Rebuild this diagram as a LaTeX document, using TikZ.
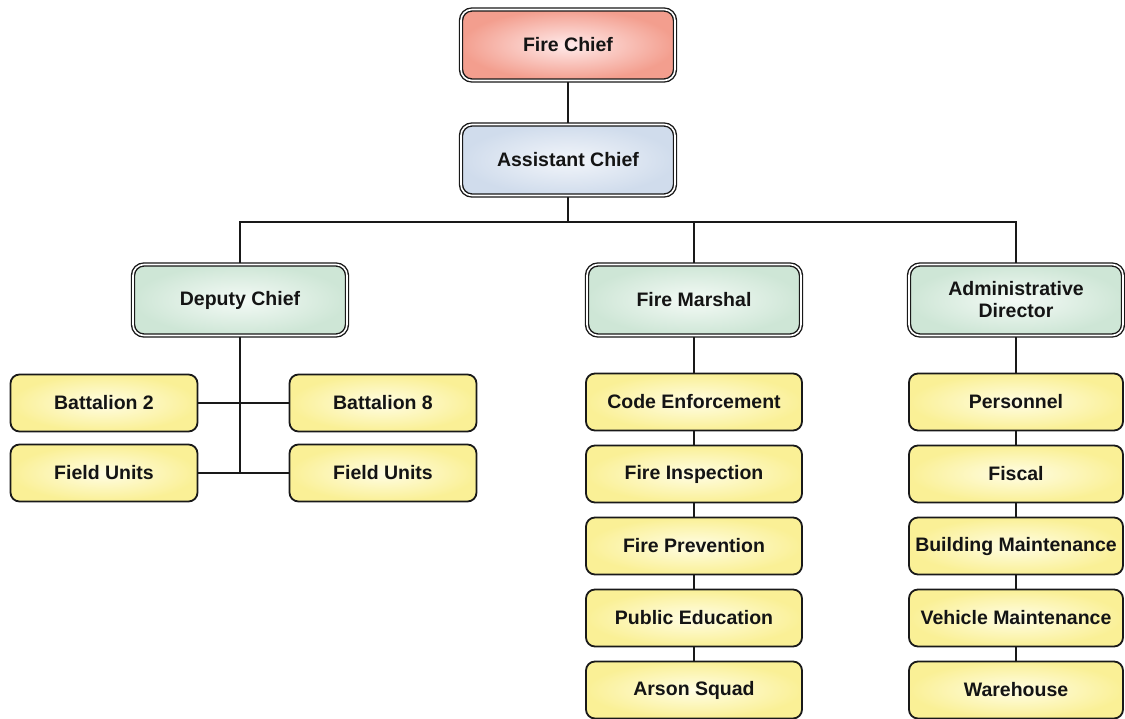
\documentclass[tikz,border=0pt]{standalone}
\usepackage{fontspec}
\setmainfont{Liberation Sans}
\usetikzlibrary{backgrounds}
\begin{document}
\begin{tikzpicture}[x=1pt,y=-1pt,
  base/.style={rounded corners=11pt, align=center, font=\fontsize{19.5}{22}\selectfont\bfseries, text=black!92, inner sep=0pt},
  dbl/.style={base, draw=black!90, line width=1.4pt, double=white, double distance=1.6pt, minimum width=214pt, minimum height=71pt},
  redbox/.style={dbl, inner color=red!8!white, outer color={rgb,255:red,243;green,158;blue,142}},
  bluebox/.style={dbl, inner color={rgb,255:red,242;green,245;blue,250}, outer color={rgb,255:red,208;green,220;blue,236}},
  greenbox/.style={dbl, inner color={rgb,255:red,244;green,250;blue,246}, outer color={rgb,255:red,206;green,230;blue,214}},
  ybox/.style={base, rounded corners=9pt, draw=black!90, line width=1.8pt, inner color={rgb,255:red,255;green,253;blue,228}, outer color={rgb,255:red,250;green,240;blue,150}, minimum height=57pt},
  conn/.style={draw=black!90, line width=2pt}
]
\useasboundingbox (0,0) rectangle (1125,719);

% top levels
\node[redbox]  (chief) at (568,45)  {Fire Chief};
\node[bluebox] (asst)  at (568,160) {Assistant Chief};

% second level
\node[greenbox] (deputy)  at (240,300)  {Deputy Chief};
\node[greenbox] (marshal) at (694,300)  {Fire Marshal};
\node[greenbox] (admin)   at (1016,300) {Administrative\\Director};

% deputy group
\node[ybox, minimum width=187pt] (bat2)  at (104,403) {Battalion 2};
\node[ybox, minimum width=187pt] (bat8)  at (383,403) {Battalion 8};
\node[ybox, minimum width=187pt] (fuL)   at (104,473) {Field Units};
\node[ybox, minimum width=187pt] (fuR)   at (383,473) {Field Units};

% marshal group
\node[ybox, minimum width=216pt] (code)  at (694,402) {Code Enforcement};
\node[ybox, minimum width=216pt] (insp)  at (694,474) {Fire Inspection};
\node[ybox, minimum width=216pt] (prev)  at (694,546) {Fire Prevention};
\node[ybox, minimum width=216pt] (pub)   at (694,618) {Public Education};
\node[ybox, minimum width=216pt] (arson) at (694,690) {Arson Squad};

% admin group
\node[ybox, minimum width=214pt] (pers)  at (1016,402) {Personnel};
\node[ybox, minimum width=214pt] (fisc)  at (1016,474) {Fiscal};
\node[ybox, minimum width=214pt] (bldg)  at (1016,546) {Building Maintenance};
\node[ybox, minimum width=214pt] (veh)   at (1016,618) {Vehicle Maintenance};
\node[ybox, minimum width=214pt] (ware)  at (1016,690) {Warehouse};

% connectors
\coordinate (bus) at (568,222);
\coordinate (dj) at (240,473);
\begin{pgfonlayer}{background}
\draw[conn] (chief) -- (asst);
\draw[conn] (asst) -- (bus);
\draw[conn] (deputy) |- (bus);
\draw[conn] (admin) |- (bus);
\draw[conn] (marshal) -- (marshal |- bus);
\draw[conn] (deputy) -- (dj);
\draw[conn] (bat2) -- (bat8);
\draw[conn] (fuL) -- (fuR);
\draw[conn] (marshal) -- (code);
\draw[conn] (code) -- (insp);
\draw[conn] (insp) -- (prev);
\draw[conn] (prev) -- (pub);
\draw[conn] (pub) -- (arson);
\draw[conn] (admin) -- (pers);
\draw[conn] (pers) -- (fisc);
\draw[conn] (fisc) -- (bldg);
\draw[conn] (bldg) -- (veh);
\draw[conn] (veh) -- (ware);
\end{pgfonlayer}
\end{tikzpicture}
\end{document}
